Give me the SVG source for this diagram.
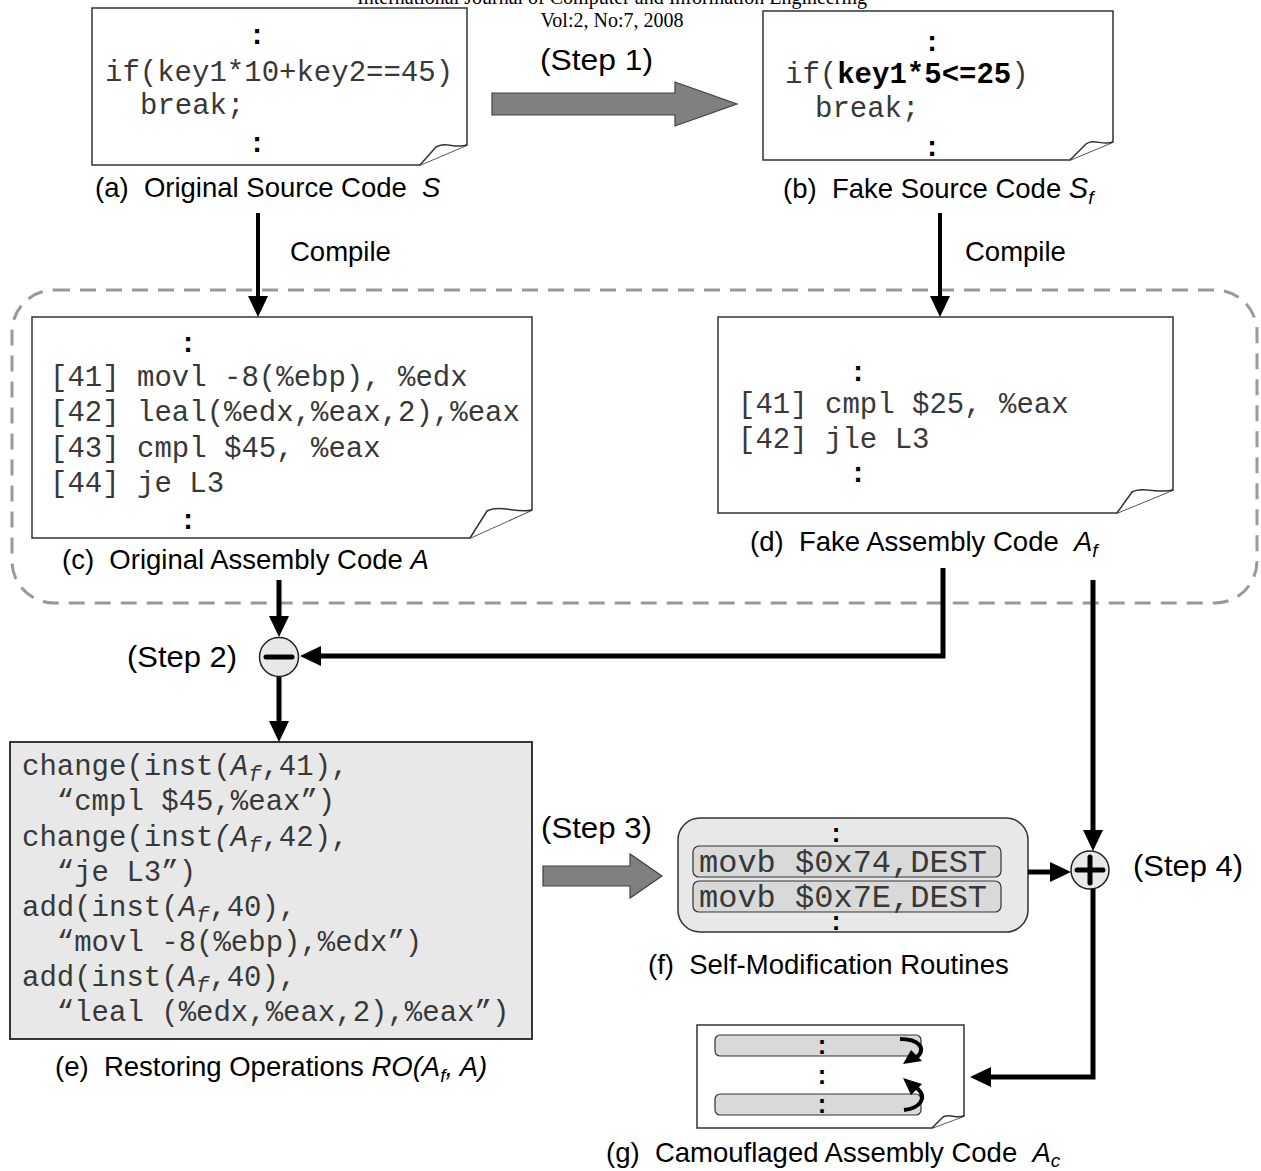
<svg xmlns="http://www.w3.org/2000/svg" width="1261" height="1171" viewBox="0 0 1261 1171">
<style>
text{white-space:pre}
.hdr{font-family:"Liberation Serif","Times New Roman",serif;font-size:20px;fill:#000;text-anchor:middle}
.lbl{font-family:"Liberation Sans",Arial,sans-serif;font-size:27.5px;fill:#000}
.step{font-family:"Liberation Sans",Arial,sans-serif;font-size:29px;fill:#000}
.code{font-family:"Liberation Mono","Courier New",monospace;font-size:29px;fill:#383838}
.colon{font-family:"Liberation Mono","Courier New",monospace;font-size:28.5px;font-weight:bold;fill:#000;text-anchor:middle}
.page{fill:#fff;stroke:#333;stroke-width:1.5}
.flap{fill:#fff;stroke:#333;stroke-width:1.5;stroke-linejoin:round}
.conn{fill:none;stroke:#000;stroke-width:5}
.thin{fill:none;stroke:#000;stroke-width:4}
.block{fill:#808080;stroke:#404040;stroke-width:1.2}
.it{font-style:italic}
.bar{fill:#d9d9d9;stroke:#333;stroke-width:1.2}
.op{fill:#e8e8e8;stroke:#222;stroke-width:1.5}
</style>
<defs>
<marker id="ah" markerUnits="userSpaceOnUse" markerWidth="22" markerHeight="20" refX="1" refY="10" orient="auto"><path d="M0,0 L21,10 L0,20 z" fill="#000"/></marker>
</defs>

<g id="header">
<text class="hdr" x="612" y="4">International Journal of Computer and Information Engineering</text>
<text class="hdr" x="612" y="27">Vol:2, No:7, 2008</text>
</g>

<g id="region">
<rect x="12" y="290" width="1245" height="313" rx="42" fill="none" stroke="#999" stroke-width="3" stroke-dasharray="16 10"/>
</g>

<g id="node-a">
<path class="page" d="M92,8 H467 V145 L420,165 H92 Z"/>
<path class="flap" d="M467,145 C455,149 446,141 436,147 L420,165"/>
<text class="colon" x="257" y="44">:</text>
<text class="code" x="105" y="81">if(key1*10+key2==45)</text>
<text class="code" x="140" y="114">break;</text>
<text class="colon" x="257" y="152">:</text>
<text class="lbl" x="95" y="197" xml:space="preserve">(a)  Original Source Code  <tspan class="it">S</tspan></text>
</g>

<g id="node-b">
<path class="page" d="M763,11 H1113 V142 L1070,160 H763 Z"/>
<path class="flap" d="M1113,142 C1102,146 1094,138 1086,144 L1070,160"/>
<text class="colon" x="932" y="51">:</text>
<text class="code" x="785" y="83">if(<tspan font-weight="bold" fill="#000">key1*5&lt;=25</tspan>)</text>
<text class="code" x="815" y="117">break;</text>
<text class="colon" x="932" y="156">:</text>
<text class="lbl" x="783" y="198" xml:space="preserve">(b)  Fake Source Code <tspan class="it" font-size="29">S</tspan><tspan class="it" font-size="19" dy="6">f</tspan></text>
</g>

<g id="step1">
<text class="step" x="540" y="70" textLength="113" lengthAdjust="spacingAndGlyphs">(Step 1)</text>
<polygon class="block" points="492,93 675,93 675,82 737,104 675,126 675,115 492,115"/>
</g>

<g id="node-c">
<path class="page" d="M32,317 H532 V510 L470,538 H32 Z"/>
<path class="flap" d="M532,510 C518,514 500,504 487,511 L470,538"/>
<text class="colon" x="188" y="352">:</text>
<text class="code" x="50" y="386">[41] movl -8(%ebp), %edx</text>
<text class="code" x="50" y="421">[42] leal(%edx,%eax,2),%eax</text>
<text class="code" x="50" y="457">[43] cmpl $45, %eax</text>
<text class="code" x="50" y="492">[44] je L3</text>
<text class="colon" x="188" y="529">:</text>
<text class="lbl" x="62" y="569" xml:space="preserve">(c)  Original Assembly Code <tspan class="it">A</tspan></text>
</g>

<g id="node-d">
<path class="page" d="M718,317 H1173 V490 L1117,513 H718 Z"/>
<path class="flap" d="M1173,490 C1158,494 1143,486 1132,492 L1117,513"/>
<text class="colon" x="858" y="381">:</text>
<text class="code" x="738" y="413">[41] cmpl $25, %eax</text>
<text class="code" x="738" y="448">[42] jle L3</text>
<text class="colon" x="858" y="482">:</text>
<text class="lbl" x="750" y="551" xml:space="preserve">(d)  Fake Assembly Code  <tspan class="it">A</tspan><tspan class="it" font-size="19" dy="6">f</tspan></text>
</g>

<g id="node-minus">
<text class="step" x="127" y="667" textLength="110" lengthAdjust="spacingAndGlyphs">(Step 2)</text>
<circle class="op" cx="279" cy="657" r="19.5"/>
<line x1="266" y1="657" x2="292" y2="657" stroke="#000" stroke-width="5" stroke-linecap="round"/>
</g>

<g id="node-e">
<rect x="10" y="742" width="522" height="297" fill="#e8e8e8" stroke="#222" stroke-width="1.8"/>
<text class="code" x="22" y="775">change(inst(<tspan class="it">A</tspan><tspan class="it" font-size="22" dy="6">f</tspan><tspan dy="-6">,41),</tspan></text>
<text class="code" x="22" y="810" xml:space="preserve">  “cmpl $45,%eax”)</text>
<text class="code" x="22" y="846">change(inst<tspan class="it">(A</tspan><tspan class="it" font-size="22" dy="6">f</tspan><tspan dy="-6">,42),</tspan></text>
<text class="code" x="22" y="881" xml:space="preserve">  “je L3”)</text>
<text class="code" x="22" y="916">add(inst(<tspan class="it">A</tspan><tspan class="it" font-size="22" dy="6">f</tspan><tspan dy="-6">,40),</tspan></text>
<text class="code" x="22" y="951" xml:space="preserve">  “movl -8(%ebp),%edx”)</text>
<text class="code" x="22" y="986">add(inst(<tspan class="it">A</tspan><tspan class="it" font-size="22" dy="6">f</tspan><tspan dy="-6">,40),</tspan></text>
<text class="code" x="22" y="1021" xml:space="preserve">  “leal (%edx,%eax,2),%eax”)</text>
<text class="lbl" x="55" y="1076" xml:space="preserve">(e)  Restoring Operations <tspan class="it">RO(A</tspan><tspan class="it" font-size="19" dy="6">f</tspan><tspan class="it" dy="-6">, A)</tspan></text>
</g>

<g id="step3">
<text class="step" x="541" y="838" textLength="111" lengthAdjust="spacingAndGlyphs">(Step 3)</text>
<polygon class="block" points="543,866 630,866 630,854 662,876 630,898 630,886 543,886"/>
</g>

<g id="node-f">
<rect x="678" y="818" width="350" height="114" rx="22" fill="#e8e8e8" stroke="#333" stroke-width="1.5"/>
<text class="colon" x="836" y="842" style="font-size:26px">:</text>
<rect class="bar" x="693" y="846" width="308" height="31" rx="6"/>
<text class="code" x="699" y="872" style="font-size:32px">movb $0x74,DEST</text>
<rect class="bar" x="693" y="881" width="308" height="31" rx="6"/>
<text class="code" x="699" y="907" style="font-size:32px">movb $0x7E,DEST</text>
<text class="colon" x="836" y="930" style="font-size:26px">:</text>
<text class="lbl" x="648" y="974" xml:space="preserve">(f)  Self-Modification Routines</text>
</g>

<g id="node-plus">
<circle class="op" cx="1090" cy="870" r="19"/>
<line x1="1077" y1="870" x2="1103" y2="870" stroke="#000" stroke-width="5" stroke-linecap="round"/>
<line x1="1090" y1="857" x2="1090" y2="883" stroke="#000" stroke-width="5" stroke-linecap="round"/>
<text class="step" x="1133" y="876" textLength="110" lengthAdjust="spacingAndGlyphs">(Step 4)</text>
</g>

<g id="node-g">
<path class="page" d="M697,1025 H964 V1116 L932,1128 H697 Z"/>
<path class="flap" d="M964,1116 C955,1119 950,1113 943,1117 L932,1128"/>
<rect class="bar" x="715" y="1035" width="206" height="21" rx="5"/>
<rect class="bar" x="715" y="1094" width="206" height="21" rx="5"/>
<text class="colon" x="822" y="1054" style="font-size:25px">:</text>
<text class="colon" x="822" y="1084" style="font-size:25px">:</text>
<text class="colon" x="822" y="1113" style="font-size:25px">:</text>
<path d="M900,1039 C918,1039 927,1048 917,1057" fill="none" stroke="#000" stroke-width="4"/>
<polygon points="903,1064 911,1050 922,1061" fill="#000"/>
<path d="M904,1110 C920,1108 928,1098 917,1088" fill="none" stroke="#000" stroke-width="4"/>
<polygon points="903,1078 922,1084 911,1095" fill="#000"/>
<text class="lbl" x="606" y="1162" xml:space="preserve">(g)  Camouflaged Assembly Code  <tspan class="it">A</tspan><tspan class="it" font-size="19" dy="5">c</tspan></text>
</g>

<g id="connectors">
<line class="thin" x1="258" y1="213" x2="258" y2="297" marker-end="url(#ah)"/>
<text class="lbl" x="290" y="261">Compile</text>
<line class="thin" x1="940" y1="213" x2="940" y2="297" marker-end="url(#ah)"/>
<text class="lbl" x="965" y="261">Compile</text>
<line class="conn" x1="279" y1="580" x2="279" y2="617" marker-end="url(#ah)"/>
<polyline class="conn" points="943,568 943,656 320,656" marker-end="url(#ah)"/>
<line class="conn" x1="279" y1="677" x2="279" y2="722" marker-end="url(#ah)"/>
<line class="conn" x1="1093" y1="580" x2="1093" y2="831" marker-end="url(#ah)"/>
<line class="conn" x1="1028" y1="872" x2="1051" y2="872" marker-end="url(#ah)"/>
<polyline class="conn" points="1093,889 1093,1077 990,1077" marker-end="url(#ah)"/>
</g>
</svg>
